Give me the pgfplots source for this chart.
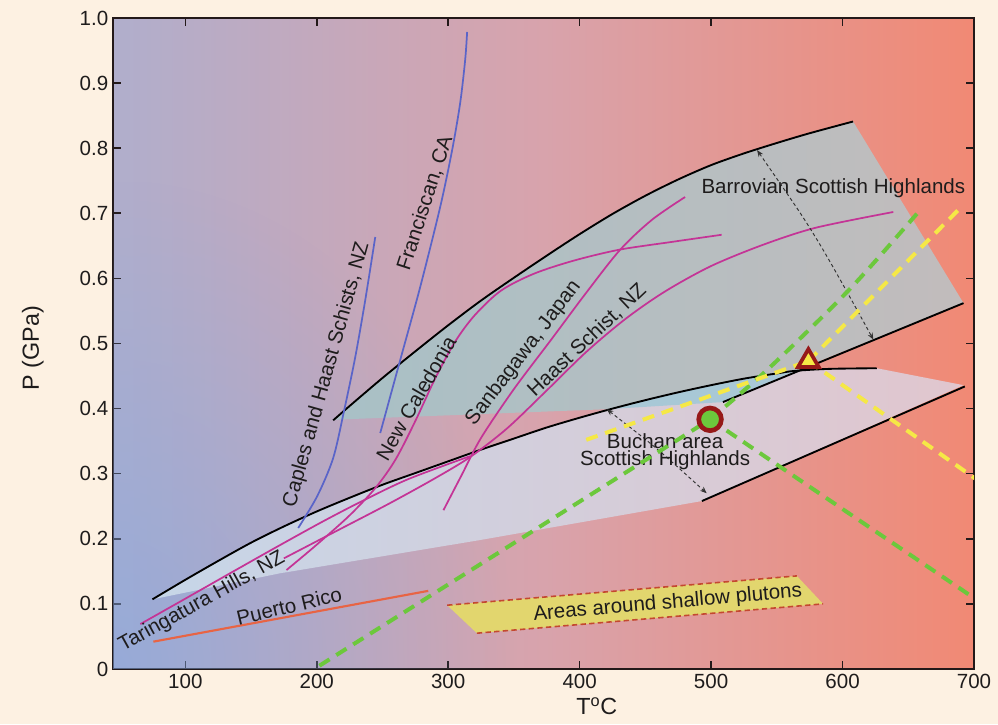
\documentclass[border=0pt]{standalone}
\usepackage{pgfplots}
\pgfplotsset{compat=1.18}
\usepackage{fontspec}
\setmainfont{Liberation Sans}
\usetikzlibrary{arrows.meta,fadings}
\definecolor{cream}{RGB}{253,241,226}
\definecolor{bgL}{RGB}{176,174,204}
\definecolor{bgM}{RGB}{216,163,172}
\definecolor{bgR}{RGB}{241,137,116}
\definecolor{bluish}{RGB}{130,168,226}
\definecolor{grayL}{RGB}{168,192,198}
\definecolor{grayR}{RGB}{194,188,188}
\definecolor{paleL}{RGB}{198,214,232}
\definecolor{paleR}{RGB}{225,198,206}
\definecolor{wedge}{RGB}{168,200,214}
\definecolor{plut}{RGB}{226,214,110}
\definecolor{plutedge}{RGB}{196,72,48}
\definecolor{mag}{RGB}{196,52,150}
\definecolor{bl}{RGB}{90,100,200}
\definecolor{pr}{RGB}{232,100,68}
\definecolor{grn}{RGB}{108,200,60}
\definecolor{yel}{RGB}{245,232,70}
\definecolor{dred}{RGB}{150,25,25}
\definecolor{axc}{RGB}{35,25,25}
\definecolor{txt}{RGB}{30,28,28}
\tikzfading[name=radfade, inner color=transparent!0, outer color=transparent!100]
\tikzset{lab/.style={font=\fontsize{15.4}{18}\selectfont, text=txt, inner sep=0pt}}
\begin{document}
\begin{tikzpicture}
\path[use as bounding box, fill=cream] (-84.75pt,-41.25pt) rectangle (663.75pt,501.75pt);
\begin{axis}[
  at={(0,0)}, anchor=south west,
  width=645.75pt, height=488.25pt, scale only axis,
  xmin=45, xmax=700, ymin=0, ymax=1,
  axis line style={line width=1.6pt, color=axc},
  every tick/.style={line width=1.2pt, color=axc},
  major tick length=6pt,
  tick align=inside,
  xtick={100,200,300,400,500,600,700},
  xticklabels={100,200,300,400,500,600,700},
  ytick={0,0.1,0.2,0.3,0.4,0.5,0.6,0.7,0.8,0.9,1.0},
  yticklabels={0,0.1,0.2,0.3,0.4,0.5,0.6,0.7,0.8,0.9,1.0},
  ticklabel style={font=\fontsize{15.4}{18}\selectfont, text=txt},
  label style={font=\fontsize{17.5}{20}\selectfont, text=txt},
  xlabel={T\textsuperscript{o}C},
  ylabel={P (GPa)},
  xlabel style={at={(axis description cs:0.562,0)}, anchor=center, yshift=-28pt},
  ylabel style={at={(axis description cs:-0.093,0.493)}, anchor=center},
  axis background/.style={left color=bgL, right color=bgR, middle color=bgM},
]
% bluish glow at lower left of the background
\addplot[draw=none, fill=bluish, fill opacity=0.55, path fading=radfade] coordinates {(-260,-0.75) (350,-0.75) (350,0.75) (-260,0.75) (-260,-0.75)};
% Barrovian gray field
\addplot[draw=none, left color=grayL, right color=grayR] coordinates {
 (212.5,0.382) (225,0.404) (250,0.447) (275,0.488) (300,0.528) (325,0.566) (350,0.601) (375,0.635) (400,0.668) (425,0.699) (450,0.727) (475,0.752) (500,0.774) (525,0.792) (550,0.808) (575,0.823) (608,0.841)
 (692,0.562) (564,0.458) (509,0.410) (420,0.399) (214,0.383) (212.5,0.382)};
% Buchan pale field
\addplot[draw=none, left color=paleL, right color=paleR] coordinates {
 (75,0.107) (100,0.137) (125,0.166) (150,0.194) (175,0.219) (200,0.242) (225,0.263) (250,0.283) (275,0.301) (300,0.319) (325,0.337) (350,0.354) (375,0.371) (400,0.386) (425,0.400) (450,0.413) (475,0.425) (500,0.436) (525,0.446) (550,0.454) (564,0.458) (590,0.461) (626,0.462)
 (692,0.436) (493,0.258) (324,0.198) (172,0.147) (75,0.107)};
% blue wedge
\addplot[draw=none, fill=wedge] coordinates {
 (420,0.399) (425,0.400) (450,0.413) (475,0.425) (500,0.436) (525,0.446) (550,0.454) (564,0.458) (509,0.410) (420,0.399)};
% shallow plutons
\addplot[draw=none, fill=plut] coordinates {(299.2,0.098) (565.2,0.143) (585.2,0.100) (321.8,0.055) (299.2,0.098)};
\addplot[plutedge, line width=1.2pt, dash pattern=on 4pt off 2.5pt] coordinates {(299.2,0.098) (565.2,0.143)};
\addplot[plutedge, line width=1.2pt, dash pattern=on 4pt off 2.5pt] coordinates {(321.8,0.055) (585.2,0.100)};
% black boundaries
\addplot[black, line width=1.4pt, smooth] coordinates {
 (212.5,0.382) (225,0.404) (250,0.447) (275,0.488) (300,0.528) (325,0.566) (350,0.601) (375,0.635) (400,0.668) (425,0.699) (450,0.727) (475,0.752) (500,0.774) (525,0.792) (550,0.808) (575,0.823) (608,0.841)};
\addplot[black, line width=1.4pt] coordinates {(509,0.410) (692,0.562)};
\addplot[black, line width=1.4pt, smooth] coordinates {
 (75,0.107) (100,0.137) (125,0.166) (150,0.194) (175,0.219) (200,0.242) (225,0.263) (250,0.283) (275,0.301) (300,0.319) (325,0.337) (350,0.354) (375,0.371) (400,0.386) (425,0.400) (450,0.413) (475,0.425) (500,0.436) (525,0.446) (550,0.454) (564,0.458) (590,0.461) (626,0.462)};
\addplot[black, line width=1.4pt] coordinates {(493,0.258) (693,0.434)};
% blue lines
\addplot[bl, line width=1.3pt, smooth] coordinates {(185.9,0.2166) (200.4,0.2657) (212.5,0.3241) (220.9,0.3978) (229.3,0.4793) (236.9,0.5668) (244.5,0.6636)};
\addplot[bl, line width=1.3pt, smooth] coordinates {(248.3,0.3625) (263.5,0.4747) (278.7,0.5868) (293.9,0.7097) (303.0,0.7972) (309.1,0.8694) (312.9,0.9355) (314.4,0.9785)};
% magenta lines
\addplot[mag, line width=1.3pt, smooth] coordinates {(65.8,0.069) (100,0.108) (134,0.147) (170,0.188) (205,0.227) (235.6,0.259) (270,0.292) (316.7,0.327)};
\addplot[mag, line width=1.3pt, smooth] coordinates {(177,0.152) (200,0.191) (225,0.236) (245,0.279) (260,0.322) (275,0.381) (290,0.446) (305,0.502) (320,0.543) (340,0.581) (365,0.607) (395,0.627) (430,0.644) (470,0.656) (508,0.667)};
\addplot[mag, line width=1.3pt, smooth] coordinates {(175,0.170) (215,0.212) (255,0.254) (290,0.293) (317,0.326) (345,0.370) (375,0.428) (405,0.487) (435,0.538) (465,0.580) (500,0.619) (540,0.652) (580,0.678) (638.6,0.702)};
\addplot[mag, line width=1.3pt, smooth] coordinates {(296.4,0.244) (310,0.297) (325,0.355) (350,0.430) (378,0.505) (405,0.578) (430.8,0.644) (455,0.690) (480.2,0.725)};
% Puerto Rico
\addplot[pr, line width=1.6pt] coordinates {(75.7,0.042) (284.8,0.120)};
% labels
\node[lab, rotate=74.4] at (axis cs:207.7,0.452) {Caples and Haast Schists, NZ};
\node[lab, rotate=72] at (axis cs:282.5,0.716) {Franciscan, CA};
\node[lab, rotate=60] at (axis cs:275.5,0.416) {New Caledonia};
\node[lab, rotate=52.7] at (axis cs:357.3,0.485) {Sanbagawa, Japan};
\node[lab, rotate=43.3] at (axis cs:405.5,0.505) {Haast Schist, NZ};
\node[lab, rotate=29] at (axis cs:112.7,0.103) {Taringatura Hills, NZ};
\node[lab, rotate=13.4] at (axis cs:179,0.097) {Puerto Rico};
\node[lab, rotate=5] at (axis cs:467,0.101) {Areas around shallow plutons};
\node[lab] at (axis cs:593,0.738) {Barrovian Scottish Highlands};
% arrows
\addplot[black!80, line width=0.7pt, dash pattern=on 2.5pt off 2pt, smooth, {Stealth[length=5pt,width=4pt]}-{Stealth[length=5pt,width=4pt]}] coordinates {(535,0.797) (581,0.658) (623.4,0.506)};
\addplot[black!80, line width=0.7pt, dash pattern=on 2.5pt off 2pt, smooth, {Stealth[length=5pt,width=4pt]}-{Stealth[length=5pt,width=4pt]}] coordinates {(420.6,0.399) (460,0.336) (496.6,0.270)};
\node[lab, align=center, font=\fontsize{15.4}{13}\selectfont] at (axis cs:465,0.334) {Buchan area\\Scottish Highlands};
% aluminosilicate reaction lines
\addplot[grn, line width=3pt, dash pattern=on 9pt off 6pt] coordinates {(202,0.005) (499.2,0.3835)};
\addplot[grn, line width=3pt, dash pattern=on 9pt off 6pt, smooth] coordinates {(499.2,0.3835) (544,0.462) (605.7,0.584) (659,0.705)};
\addplot[grn, line width=3pt, dash pattern=on 9pt off 6pt] coordinates {(499.2,0.3835) (700,0.109)};
\addplot[yel, line width=3pt, dash pattern=on 9pt off 6pt] coordinates {(405,0.352) (574,0.473)};
\addplot[yel, line width=3pt, dash pattern=on 9pt off 6pt] coordinates {(574,0.473) (688,0.705)};
\addplot[yel, line width=3pt, dash pattern=on 9pt off 6pt] coordinates {(574,0.473) (702,0.291)};
% triple points
\addplot[only marks, mark=*, mark size=8.5pt, mark options={fill=grn, draw=dred, line width=3.5pt}] coordinates {(499.2,0.3835)};
\addplot[only marks, mark=triangle*, mark size=9pt, mark options={fill=yel, draw=dred, line width=2.8pt}] coordinates {(574,0.473)};
\end{axis}
\end{tikzpicture}
\end{document}
